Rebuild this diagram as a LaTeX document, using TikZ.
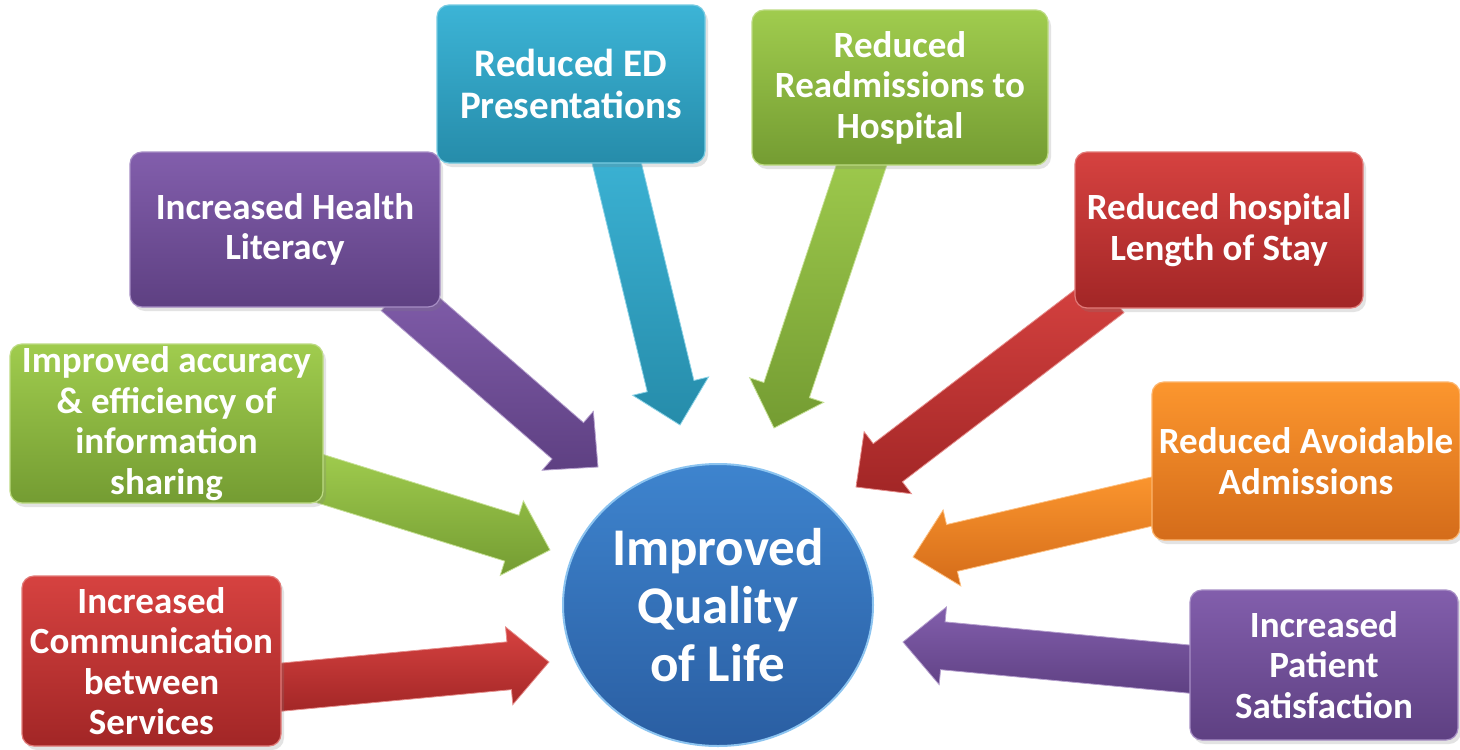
\documentclass[tikz,border=0pt]{standalone}
\usepackage{fontspec}
\setmainfont{Carlito}
\usetikzlibrary{calc,shapes.geometric,shadows}
\pgfdeclarelayer{bg}
\pgfdeclarelayer{paper}
\pgfsetlayers{paper,bg,main}
\definecolor{cyanT}{RGB}{60,180,214}
\definecolor{cyanB}{RGB}{38,140,170}
\definecolor{greenT}{RGB}{160,204,78}
\definecolor{greenB}{RGB}{116,156,50}
\definecolor{purpT}{RGB}{130,94,172}
\definecolor{purpB}{RGB}{94,64,130}
\definecolor{redT}{RGB}{214,66,64}
\definecolor{redB}{RGB}{162,38,38}
\definecolor{orT}{RGB}{252,150,46}
\definecolor{orB}{RGB}{212,108,26}
\definecolor{blueT}{RGB}{62,132,206}
\definecolor{blueB}{RGB}{42,94,162}
\definecolor{rim}{RGB}{140,196,240}
\newcommand\blockarrow[4]{% top colour, bottom colour, start, tip
  \coordinate (nk) at ($(#4)!40pt!(#3)$);
  \shade[top color=#1,bottom color=#2,draw=#1!60!white,line width=0.8pt,line join=miter]
    ($(#3)!24pt!90:(#4)$) -- ($(nk)!24pt!90:(#4)$) -- ($(nk)!39pt!90:(#4)$) --
    (#4) -- ($(nk)!39pt!-90:(#4)$) -- ($(nk)!24pt!-90:(#4)$) --
    ($(#3)!24pt!-90:(#4)$) -- cycle;
}
\tikzset{
  box/.style={rectangle,rounded corners=12pt,inner sep=0pt,align=center,
    text=white,font=\fontsize{37}{40.5}\selectfont\bfseries,
    drop shadow={opacity=0.22,shadow xshift=3pt,shadow yshift=-4pt},
    line width=1.2pt},
  cyanbox/.style={box,top color=cyanT,bottom color=cyanB,draw=cyanT!70!white},
  greenbox/.style={box,top color=greenT,bottom color=greenB,draw=greenT!70!white},
  purpbox/.style={box,top color=purpT,bottom color=purpB,draw=purpT!70!white},
  redbox/.style={box,top color=redT,bottom color=redB,draw=redT!70!white},
  orbox/.style={box,top color=orT,bottom color=orB,draw=orT!70!white},
}
\begin{document}
\begin{tikzpicture}[x=1pt,y=-1pt]
\useasboundingbox (0,0) rectangle (1460,750);
\begin{pgfonlayer}{paper}
\fill[white] (0,0) rectangle (1460,750);
\end{pgfonlayer}
% boxes
\node[cyanbox,minimum width=268pt,minimum height=158pt,font=\fontsize{39}{42}\selectfont\bfseries] (ed) at (571,84) {Reduced ED\\Presentations};
\node[greenbox,minimum width=296pt,minimum height=155pt] (rr) at (900,87.5) {Reduced\\Readmissions to\\Hospital};
\node[purpbox,minimum width=310pt,minimum height=155pt] (hl) at (285,229.5) {Increased Health\\Literacy};
\node[redbox,minimum width=288pt,minimum height=156pt] (los) at (1219,230) {Reduced hospital\\Length of Stay};
\node[greenbox,minimum width=313pt,minimum height=159pt] (acc) at (166.5,423.5) {Improved accuracy\\\&\ efficiency of\\information\\sharing};
\node[orbox,minimum width=308pt,minimum height=158pt] (ava) at (1306,461) {Reduced Avoidable\\Admissions};
\node[redbox,minimum width=259pt,minimum height=170pt] (com) at (151.5,661) {Increased\\Communication\\between\\Services};
\node[purpbox,minimum width=268pt,minimum height=150pt] (sat) at (1324,665) {Increased\\Patient\\Satisfaction};
% centre
\node[ellipse,minimum width=310pt,minimum height=282pt,inner sep=0pt,
  top color=blueT,bottom color=blueB,draw=rim,line width=2pt,
  text=white,align=center,font=\fontsize{53}{58}\selectfont\bfseries] (qol) at (718,605) {Improved\\Quality\\of Life};
% arrow ends
\coordinate (edS) at ($(ed.south)+(41,-20)$);
\coordinate (edT) at (680,425);
\coordinate (rrS) at ($(rr.south)+(-32,-20)$);
\coordinate (rrT) at (774,428);
\coordinate (hlS) at ($(hl.south)+(112,-15)$);
\coordinate (hlT) at (598,467);
\coordinate (losS) at ($(los.south west)+(35,-15)$);
\coordinate (losT) at (856,487);
\coordinate (accS) at ($(acc.east)+(-20,50)$);
\coordinate (accT) at (550,550);
\coordinate (comS) at ($(com.east)+(-20,28)$);
\coordinate (comT) at (549,662);
\coordinate (avaS) at ($(ava.west)+(20,36)$);
\coordinate (avaT) at (913,557);
\coordinate (satS) at ($(sat.west)+(20,6)$);
\coordinate (satT) at (903,642);
\begin{pgfonlayer}{bg}
\blockarrow{cyanT}{cyanB}{edS}{edT}
\blockarrow{greenT}{greenB}{rrS}{rrT}
\blockarrow{purpT}{purpB}{hlS}{hlT}
\blockarrow{redT}{redB}{losS}{losT}
\blockarrow{greenT}{greenB}{accS}{accT}
\blockarrow{redT}{redB}{comS}{comT}
\blockarrow{orT}{orB}{avaS}{avaT}
\blockarrow{purpT}{purpB}{satS}{satT}
\end{pgfonlayer}
\end{tikzpicture}
\end{document}
